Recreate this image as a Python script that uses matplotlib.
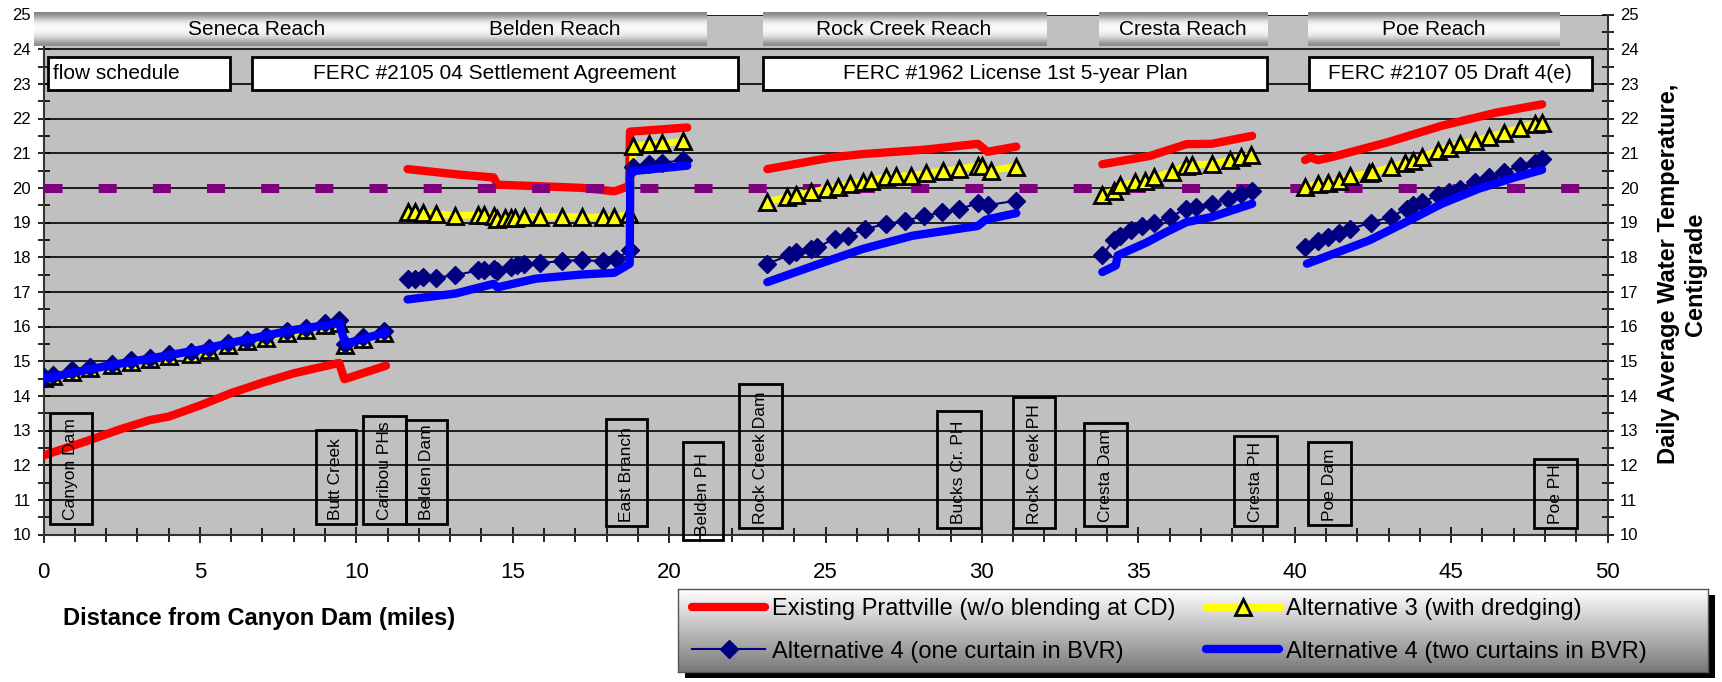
import matplotlib
matplotlib.use('Agg')
import matplotlib.pyplot as plt
import numpy as np
from matplotlib.patches import Rectangle

plt.rcParams['font.family'] = ['Liberation Sans', 'DejaVu Sans']

NA = np.nan

# ---------------- data ----------------
# Existing Prattville (w/o blending at CD)
red_x = [0.0, 1.4, 2.5, 3.4, 4.0, 5.0, 6.0, 7.0, 8.0, 9.45, 9.62, 10.95, NA,
         11.64, 13.3, 14.39, 14.51, 15.74, 17.2, 18.25, 18.72, 18.75, 20.58, NA,
         23.14, 25.22, 26.14, 28.16, 29.87, 30.18, 31.1, NA,
         33.85, 35.37, 36.54, 37.35, 38.64, NA,
         40.33, 40.5, 40.74, 41.2, 42.95, 44.7, 46.45, 47.91]
red_y = [12.28, 12.7, 13.05, 13.3, 13.4, 13.72, 14.08, 14.38, 14.65, 14.95, 14.48, 14.87, NA,
         20.54, 20.38, 20.3, 20.09, 20.05, 20.0, 19.9, 20.05, 21.62, 21.74, NA,
         20.54, 20.88, 20.97, 21.1, 21.27, 21.04, 21.19, NA,
         20.68, 20.92, 21.26, 21.27, 21.5, NA,
         20.8, 20.88, 20.8, 20.89, 21.31, 21.79, 22.17, 22.41]

# Alternative 3 (with dredging)
alt3_x = [0.0, 0.3, 0.9, 1.5, 2.2, 2.8, 3.4, 4.0, 4.7, 5.3, 5.9, 6.5, 7.1, 7.8, 8.4, 9.0, 9.45, 9.65, 10.2, 10.9, NA,
          11.64, 11.88, 12.13, 12.56, 13.17, 13.9, 14.09, 14.39, 14.51, 14.76, 14.94, 15.07, 15.37, 15.86,
          16.59, 17.21, 17.88, 18.25, 18.72, 18.86, 19.35, 19.78, 20.45, NA,
          23.14, 23.76, 24.06, 24.55, 25.04, 25.41, 25.77, 26.2, 26.45, 26.94, 27.24, 27.73, 28.22, 28.77,
          29.26, 29.87, 30.0, 30.3, 31.1, NA,
          33.85, 34.22, 34.4, 34.89, 35.2, 35.5, 36.07, 36.54, 36.71, 37.35, 37.94, 38.29, 38.61, NA,
          40.33, 40.74, 41.08, 41.43, 41.78, 42.37, 42.48, 43.07, 43.53, 43.77, 44.06, 44.58, 44.93, 45.28,
          45.75, 46.22, 46.68, 47.21, 47.67, 47.91]
alt3_y = [14.52, 14.57, 14.7, 14.8, 14.9, 14.99, 15.07, 15.16, 15.22, 15.33, 15.48, 15.58, 15.68, 15.8, 15.9, 16.03, 16.1, 15.47, 15.65, 15.8, NA,
          19.3, 19.3, 19.28, 19.25, 19.2, 19.22, 19.22, 19.2, 19.1, 19.12, 19.14, 19.14, 19.16, 19.17,
          19.17, 19.16, 19.15, 19.15, 19.24, 21.2, 21.26, 21.28, 21.34, NA,
          19.59, 19.73, 19.78, 19.88, 19.97, 20.02, 20.11, 20.18, 20.21, 20.31, 20.33, 20.35, 20.42, 20.48,
          20.54, 20.64, 20.64, 20.5, 20.61, NA,
          19.78, 19.92, 20.07, 20.16, 20.21, 20.3, 20.45, 20.64, 20.66, 20.69, 20.8, 20.88, 20.95, NA,
          20.02, 20.11, 20.13, 20.21, 20.33, 20.42, 20.45, 20.59, 20.73, 20.78, 20.89, 21.07, 21.16, 21.26,
          21.35, 21.47, 21.59, 21.73, 21.85, 21.88]

# Alternative 4 (one curtain in BVR)
alt4a_x = [0.0, 0.3, 0.9, 1.5, 2.2, 2.8, 3.4, 4.0, 4.7, 5.3, 5.9, 6.5, 7.1, 7.8, 8.4, 9.0, 9.45, 9.65, 10.2, 10.9, NA,
           11.64, 11.88, 12.13, 12.56, 13.17, 13.9, 14.09, 14.39, 14.51, 14.94, 15.13, 15.37, 15.86, 16.59,
           17.2, 17.88, 18.31, 18.75, 18.86, 19.35, 19.78, 20.45, NA,
           23.14, 23.82, 24.06, 24.55, 24.74, 25.29, 25.71, 26.26, 26.94, 27.55, 28.16, 28.71, 29.26, 29.87,
           30.18, 31.1, NA,
           33.85, 34.22, 34.4, 34.77, 35.13, 35.5, 36.0, 36.54, 36.83, 37.35, 37.88, 38.29, 38.64, NA,
           40.33, 40.74, 41.08, 41.43, 41.78, 42.43, 43.07, 43.59, 43.77, 44.06, 44.58, 44.93, 45.28, 45.75,
           46.22, 46.68, 47.21, 47.67, 47.91]
alt4a_y = [14.55, 14.6, 14.74, 14.84, 14.93, 15.03, 15.1, 15.2, 15.26, 15.38, 15.53, 15.62, 15.72, 15.86, 15.95, 16.09, 16.18, 15.5, 15.7, 15.86, NA,
           17.38, 17.38, 17.43, 17.41, 17.48, 17.62, 17.64, 17.67, 17.6, 17.71, 17.76, 17.79, 17.83, 17.89,
           17.92, 17.88, 17.95, 18.2, 20.6, 20.68, 20.72, 20.8, NA,
           17.81, 18.05, 18.14, 18.24, 18.29, 18.53, 18.62, 18.81, 18.96, 19.05, 19.19, 19.29, 19.39, 19.55,
           19.5, 19.63, NA,
           18.05, 18.5, 18.6, 18.77, 18.9, 19.0, 19.15, 19.4, 19.44, 19.54, 19.68, 19.83, 19.9, NA,
           18.28, 18.47, 18.57, 18.71, 18.81, 19.0, 19.16, 19.4, 19.5, 19.59, 19.78, 19.88, 19.97, 20.16,
           20.3, 20.45, 20.64, 20.73, 20.83]

# Alternative 4 (two curtains in BVR)
alt4b_x = [0.0, 2.0, 4.0, 5.0, 6.0, 7.0, 8.0, 9.45, 9.65, 10.95, NA,
           11.64, 13.17, 14.39, 14.51, 15.74, 17.2, 18.25, 18.74, 18.76, 18.92, 20.58, NA,
           23.14, 24.49, 26.2, 27.79, 29.87, 30.12, 31.1, NA,
           33.85, 34.28, 34.34, 35.26, 35.84, 36.54, 37.35, 38.64, NA,
           40.39, 42.37, 43.53, 44.7, 45.87, 47.03, 47.91]
alt4b_y = [14.5, 14.86, 15.17, 15.33, 15.53, 15.72, 15.9, 16.1, 15.5, 15.83, NA,
           16.78, 16.95, 17.23, 17.13, 17.38, 17.5, 17.55, 17.81, 20.44, 20.49, 20.64, NA,
           17.28, 17.71, 18.24, 18.62, 18.9, 19.08, 19.27, NA,
           17.57, 17.76, 18.05, 18.42, 18.7, 19.01, 19.16, 19.54, NA,
           17.81, 18.48, 19.0, 19.54, 19.97, 20.3, 20.52]

target_x = [0, 50]
target_y = [20, 20]

series_labels = ['Existing Prattville (w/o blending at CD)', 'Alternative 3 (with dredging)',
                 'Alternative 4 (one curtain in BVR)', 'Alternative 4 (two curtains in BVR)']

reach_names = ['Seneca Reach', 'Belden Reach', 'Rock Creek Reach', 'Cresta Reach', 'Poe Reach']
reach_x0 = [-0.31, 11.46, 23.0, 33.73, 40.41]
reach_x1 = [11.46, 21.2, 32.05, 39.13, 48.44]
reach_text_x = [6.8, 16.33, 27.5, 36.43, 44.43]

plan_names = ['flow schedule', 'FERC #2105 04 Settlement Agreement',
              'FERC #1962 License 1st 5-year Plan', 'FERC #2107 05 Draft 4(e)']
plan_x0 = [0.14, 6.65, 23.0, 40.45]
plan_x1 = [5.97, 22.2, 39.13, 49.5]

site_names = ['Canyon Dam', 'Butt Creek', 'Caribou PHs', 'Belden Dam', 'East Branch', 'Belden PH',
              'Rock Creek Dam', 'Bucks Cr. PH', 'Rock Creek PH', 'Cresta Dam', 'Cresta PH',
              'Poe Dam', 'Poe PH']
site_x0 = [0.2, 8.7, 10.21, 11.58, 17.97, 20.45, 22.25, 28.56, 31.01, 33.27, 38.05, 40.44, 47.65]
site_x1 = [1.55, 10.0, 11.58, 12.89, 19.3, 21.71, 23.62, 29.97, 32.34, 34.64, 39.45, 41.81, 49.02]
site_top = [13.5, 13.0, 13.41, 13.31, 13.33, 12.66, 14.34, 13.57, 13.97, 13.23, 12.85, 12.68, 12.19]
site_bot = [10.29, 10.29, 10.29, 10.29, 10.24, 9.85, 10.18, 10.18, 10.18, 10.25, 10.25, 10.27, 10.18]

# ---------------- figure ----------------
W, H = 1722, 682
fig = plt.figure(figsize=(W / 100, H / 100), dpi=100)
ax_l, ax_r, ax_t, ax_b = 43.5, 1607.5, 14.5, 534.5
ax = fig.add_axes([ax_l / W, 1 - ax_b / H, (ax_r - ax_l) / W, (ax_b - ax_t) / H])
ax.set_facecolor('#c0c0c0')


def grad_rect(axis, x0, x1, y0, y1, vals, z, clip=True):
    g = np.array(vals).reshape(-1, 1)
    im = axis.imshow(g, extent=[x0, x1, y0, y1], aspect='auto', cmap='gray', vmin=0, vmax=1,
                     origin='upper', zorder=z, interpolation='bicubic')
    im.set_clip_on(clip)
    return im


band_vals = [0.52, 0.66, 0.82, 0.93, 0.97, 0.97, 0.95, 0.9, 0.8, 0.66, 0.55]
for name, x0, x1, tx in zip(reach_names, reach_x0, reach_x1, reach_text_x):
    grad_rect(ax, x0, x1, 24.08, 25.05, band_vals, 6, clip=False)
    ax.text(tx, 24.57, name, ha='center', va='center', fontsize=15, zorder=7, clip_on=False)

for name, x0, x1 in zip(plan_names, plan_x0, plan_x1):
    ax.add_patch(Rectangle((x0, 22.82), x1 - x0, 0.94, facecolor='white', edgecolor='black',
                           lw=2, zorder=6))
    if name == 'flow schedule':
        ax.text(x0 + 0.17, 23.29, name, ha='left', va='center', fontsize=15, zorder=7)
    else:
        ax.text((x0 + x1) / 2, 23.29, name, ha='center', va='center', fontsize=15, zorder=7)

for name, x0, x1, yt, yb in zip(site_names, site_x0, site_x1, site_top, site_bot):
    ax.add_patch(Rectangle((x0, yb), x1 - x0, yt - yb, facecolor='none', edgecolor='black',
                           lw=2, zorder=6, clip_on=False))
    ax.text((x0 + x1) / 2, yb + 0.12, name, rotation=90, ha='center', va='bottom',
            fontsize=12.5, zorder=7, clip_on=False)

l_red, = ax.plot(red_x, red_y, color='#ff0000', lw=6, solid_capstyle='round',
                 solid_joinstyle='round', zorder=3, label=series_labels[0])
ax.plot(target_x, target_y, color='#800080', lw=6.5, dashes=(2.0, 4.0), zorder=3.5)
l_a3, = ax.plot(alt3_x, alt3_y, color='#ffff00', lw=5, marker='^', markersize=12,
                markerfacecolor='#ffff00', markeredgecolor='black', markeredgewidth=2,
                zorder=4, label=series_labels[1])
l_a4a, = ax.plot(alt4a_x, alt4a_y, color='#000080', lw=1.5, marker='D', markersize=9,
                 markerfacecolor='#000080', markeredgecolor='#000080', zorder=5,
                 label=series_labels[2])
l_a4b, = ax.plot(alt4b_x, alt4b_y, color='#0000ff', lw=6, solid_capstyle='round',
                 solid_joinstyle='round', zorder=5.5, label=series_labels[3])

ax.set_xlim(0, 50)
ax.set_ylim(10, 25)
ax.set_xticks(np.arange(0, 51, 5))
ax.set_xticks(np.arange(0, 51, 1), minor=True)
ax.set_yticks(np.arange(10, 26, 1))
ax.set_yticks(np.arange(10, 25.01, 0.5), minor=True)
ax.yaxis.grid(True, which='major', color='black', lw=1.2)
ax.set_axisbelow(True)

ax.tick_params(axis='x', which='major', direction='inout', length=12, width=1.2,
               labelsize=16, pad=14)
ax.tick_params(axis='x', which='minor', direction='inout', length=10, width=1.2)
ax.tick_params(axis='y', which='both', direction='inout', length=8, width=1.2,
               left=True, right=True, labelleft=True, labelright=True, labelsize=12, pad=5)
for s in ['left', 'right', 'bottom']:
    ax.spines[s].set_color('#333333')
    ax.spines[s].set_linewidth(1.5)
ax.spines['top'].set_visible(False)

fig.text(63 / W, 1 - 618 / H, 'Distance from Canyon Dam (miles)', ha='left', va='center',
         fontsize=17, fontweight='bold')
fig.text(1682 / W, 1 - 274 / H, 'Daily Average Water Temperature,\nCentigrade', rotation=90,
         ha='center', va='center', multialignment='center', fontsize=17, fontweight='bold')

# legend box with shadow and gradient
lg_x0, lg_x1, lg_y0, lg_y1 = 678, 1708, 589, 672
fig.patches.append(Rectangle(((lg_x0 + 7) / W, 1 - (lg_y1 + 6) / H), (lg_x1 - lg_x0) / W,
                             (lg_y1 - lg_y0) / H, transform=fig.transFigure,
                             facecolor='black', edgecolor='none', zorder=0))
lax = fig.add_axes([lg_x0 / W, 1 - lg_y1 / H, (lg_x1 - lg_x0) / W, (lg_y1 - lg_y0) / H])
lax.set_zorder(5)
grad_rect(lax, 0, 1, 0, 1, np.linspace(1.0, 0.48, 40), 0)
lax.set_xlim(0, 1)
lax.set_ylim(0, 1)
lax.set_xticks([])
lax.set_yticks([])
for s in lax.spines.values():
    s.set_color('#555555')
    s.set_linewidth(1)

leg_kw = dict(frameon=False, fontsize=17, handlelength=3.1, handletextpad=0.3,
              labelspacing=0.85, borderpad=0, borderaxespad=0, loc='center left')
leg1 = lax.legend([l_red, l_a4a], [series_labels[0], series_labels[2]],
                  bbox_to_anchor=((692 - lg_x0) / (lg_x1 - lg_x0), 0.5), **leg_kw)
lax.add_artist(leg1)
lax.legend([l_a3, l_a4b], [series_labels[1], series_labels[3]],
           bbox_to_anchor=((1206 - lg_x0) / (lg_x1 - lg_x0), 0.5), **leg_kw)

fig.savefig('out.png', dpi=100, facecolor='white')
